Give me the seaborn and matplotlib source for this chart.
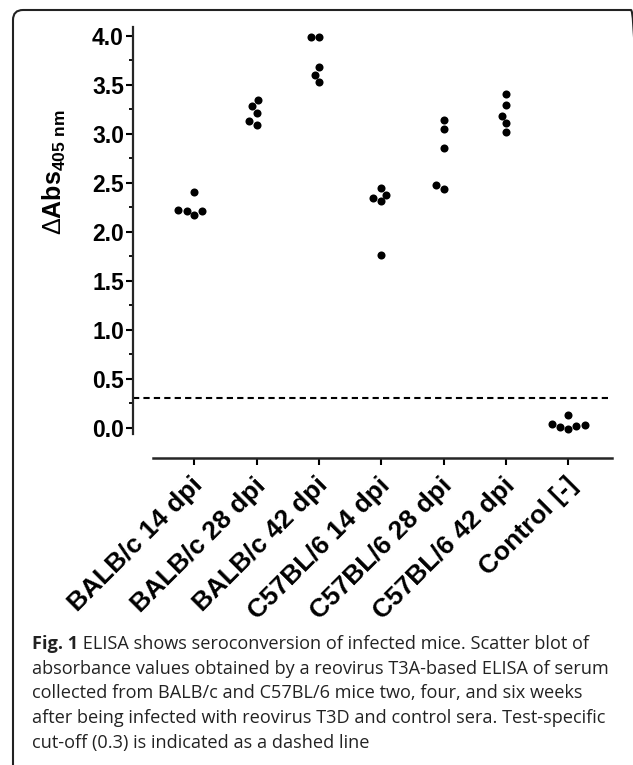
import numpy as np
import pandas as pd
import matplotlib
matplotlib.use("Agg")
import matplotlib.pyplot as plt
import matplotlib.transforms as mtransforms
from matplotlib.patches import FancyBboxPatch
import seaborn as sns

# ---------------- data ----------------
groups = ["BALB/c 14 dpi", "BALB/c 28 dpi", "BALB/c 42 dpi",
          "C57BL/6 14 dpi", "C57BL/6 28 dpi", "C57BL/6 42 dpi", "Control [-]"]
balbc_14 = [2.21, 2.17, 2.21, 2.22, 2.41]
balbc_28 = [3.34, 3.28, 3.21, 3.13, 3.09]
balbc_42 = [3.99, 3.99, 3.68, 3.60, 3.53]
c57_14 = [2.45, 2.34, 2.38, 2.31, 1.76]
c57_28 = [3.14, 3.05, 2.85, 2.44, 2.48]
c57_42 = [3.41, 3.29, 3.18, 3.11, 3.02]
control = [0.13, 0.04, 0.03, 0.02, 0.01, -0.01]
cutoff = 0.3
yticks = [0.0, 0.5, 1.0, 1.5, 2.0, 2.5, 3.0, 3.5, 4.0]

caption_bold = "Fig. 1"
caption_lines = [
    " ELISA shows seroconversion of infected mice. Scatter blot of",
    "absorbance values obtained by a reovirus T3A-based ELISA of serum",
    "collected from BALB/c and C57BL/6 mice two, four, and six weeks",
    "after being infected with reovirus T3D and control sera. Test-specific",
    "cut-off (0.3) is indicated as a dashed line",
]

series = [balbc_14, balbc_28, balbc_42, c57_14, c57_28, c57_42, control]
df = pd.DataFrame({
    "group": [g for g, vals in zip(groups, series) for _ in vals],
    "value": [v for vals in series for v in vals],
})

# ---------------- style ----------------
sns.set_theme(style="ticks")
plt.rcParams["font.family"] = ["Liberation Sans", "DejaVu Sans"]
plt.rcParams["font.weight"] = "bold"
plt.rcParams["mathtext.fontset"] = "custom"
plt.rcParams["mathtext.rm"] = "Liberation Sans:weight=normal"
plt.rcParams["mathtext.bf"] = "Liberation Sans:weight=bold"
plt.rcParams["mathtext.it"] = "Liberation Sans:italic"

W, H = 633, 765
fig = plt.figure(figsize=(W / 100, H / 100), dpi=100)
fig.patch.set_facecolor("white")

ax_l, ax_r, ax_t, ax_b = 133, 612, 27, 458
ax = fig.add_axes([ax_l / W, 1 - ax_b / H, (ax_r - ax_l) / W, (ax_b - ax_t) / H])
ax.set_facecolor("white")

sns.swarmplot(data=df, x="group", y="value", order=groups, color="black",
              size=5.8, linewidth=0, ax=ax)

ax.axhline(cutoff, color="black", lw=1.5, ls=(0, (3, 2)), zorder=1)

ax.set_xlim(-0.983, 6.70)
ax.set_ylim(-0.31, 4.09)
ax.set_yticks(yticks)
ax.set_yticklabels([f"{t:.1f}" for t in yticks])
ax.set_yticks(np.arange(0.25, 4.0, 0.5), minor=True)

for s in ["top", "right"]:
    ax.spines[s].set_visible(False)
ax.spines["left"].set_linewidth(1.6)
ax.spines["bottom"].set_linewidth(1.8)
ax.spines["left"].set_bounds(-0.06, 4.09)
ax.spines["bottom"].set_bounds(-0.667, 6.70)

ax.tick_params(axis="y", which="major", length=5, width=1.5, labelsize=16.5,
               pad=1.5, color="black", labelcolor="black")
ax.tick_params(axis="y", which="minor", length=3, width=1.3, color="black")
ax.tick_params(axis="x", which="major", length=5, width=1.5, labelsize=19,
               pad=12, color="black", labelcolor="black")

ax.set_xlabel("")
offset = mtransforms.ScaledTranslation(5 / 100, 0, fig.dpi_scale_trans)
for lbl in ax.get_xticklabels():
    lbl.set_rotation(45)
    lbl.set_ha("right")
    lbl.set_va("center")
    lbl.set_rotation_mode("anchor")
    lbl.set_fontweight("bold")
    lbl.set_transform(lbl.get_transform() + offset)

ax.set_ylabel(r"$\Delta\mathbf{Abs}_{\mathbf{405\ nm}}$", fontsize=18,
              color="black")
ax.yaxis.set_label_coords(-0.136, 0.664)

# ---------------- frame ----------------
frame = FancyBboxPatch((13, -200), 628, 955,
                       boxstyle="round,pad=0,rounding_size=10",
                       transform=mtransforms.IdentityTransform(),
                       fill=False, edgecolor="#222222", linewidth=1.5)
fig.add_artist(frame)

# ---------------- caption ----------------
cap_font = ["Open Sans", "DejaVu Sans"]
baselines = [649, 673.5, 698, 723, 748]
x0 = 32 / W
cap_size = 13.1
t0 = fig.text(x0, 1 - baselines[0] / H, caption_bold, family=cap_font,
              weight="bold", fontsize=cap_size, va="baseline", ha="left",
              color="#222222")
fig.canvas.draw()
bb = t0.get_window_extent(renderer=fig.canvas.get_renderer())
fig.text(bb.x1 / W, 1 - baselines[0] / H, caption_lines[0], family=cap_font,
         weight="normal", fontsize=cap_size, va="baseline", ha="left",
         color="#222222")
for line, yb in zip(caption_lines[1:], baselines[1:]):
    fig.text(x0, 1 - yb / H, line, family=cap_font, weight="normal",
             fontsize=cap_size, va="baseline", ha="left", color="#222222")

fig.savefig("out.png", dpi=100, facecolor="white")
